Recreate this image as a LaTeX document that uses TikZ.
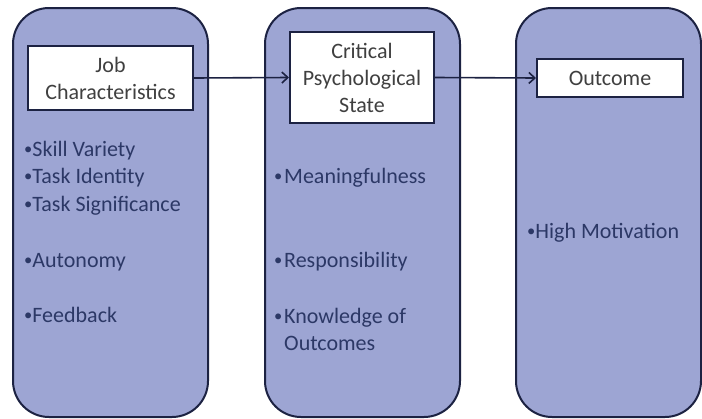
\documentclass[tikz,border=0pt]{standalone}
\usepackage{fontspec}
\usepackage{graphicx}
\setmainfont{Carlito}
\usetikzlibrary{arrows.meta}
\definecolor{panelfill}{HTML}{9DA5D3}
\definecolor{panelline}{HTML}{1C2242}
\definecolor{itemtext}{HTML}{2C3866}
\definecolor{boxtext}{HTML}{404040}
% small raised bullet
\newcommand{\dotmark}{\raisebox{2pt}{\scalebox{0.75}{•}}}
\tikzset{
  panel/.style={draw=panelline, line width=2pt, fill=panelfill, rounded corners=36pt},
  headbox/.style={draw=panelline, line width=2pt, fill=white, inner sep=0pt,
    align=center, text=boxtext, font=\fontsize{22}{27}\selectfont},
  item/.style={anchor=base west, inner sep=0pt, text=itemtext,
    font=\fontsize{22}{27}\selectfont},
  flow/.style={draw=panelline, line width=1.6pt, -{Straight Barb[length=6pt,width=11pt,line width=1.6pt]}}
}
\begin{document}
\begin{tikzpicture}[x=1pt,y=-1pt]
  \useasboundingbox (0,0) rectangle (702,418);

  % three rounded panels
  \draw[panel] (13,8) rectangle (208,417);
  \draw[panel] (265,8) rectangle (460,417);
  \draw[panel] (516,8) rectangle (701,417);

  % header boxes
  \node[headbox, minimum width=165pt, minimum height=64pt] (job) at (110.5,78) {Job\\Characteristics};
  \node[headbox, minimum width=144pt, minimum height=91pt] (cps) at (362,77.5) {Critical\\Psychological\\State};
  \node[headbox, minimum width=146pt, minimum height=38pt] (out) at (610,78) {Outcome};

  % connectors
  \draw[flow] (job.east) -- (cps.west);
  \draw[flow] (cps.east) -- (out.west);

  % job characteristics list
  \node[item] (sv) at (24,156) {\dotmark Skill Variety};
  \node[item] (ti) at (24,183) {\dotmark Task Identity};
  \node[item] (ts) at (24,211) {\dotmark Task Significance};
  \node[item] (au) at (24,267) {\dotmark Autonomy};
  \node[item] (fb) at (24,322) {\dotmark Feedback};

  % psychological states list
  \node[item] (mf) at (274,183) {\makebox[10pt][l]{\dotmark}Meaningfulness};
  \node[item] (rs) at (274,267) {\makebox[10pt][l]{\dotmark}Responsibility};
  \node[item] (ko) at (274,323) {\makebox[10pt][l]{\dotmark}Knowledge of};
  \node[item] (oc) at (284,350) {Outcomes};

  % outcome list
  \node[item] (hm) at (527,238) {\dotmark High Motivation};
\end{tikzpicture}
\end{document}
